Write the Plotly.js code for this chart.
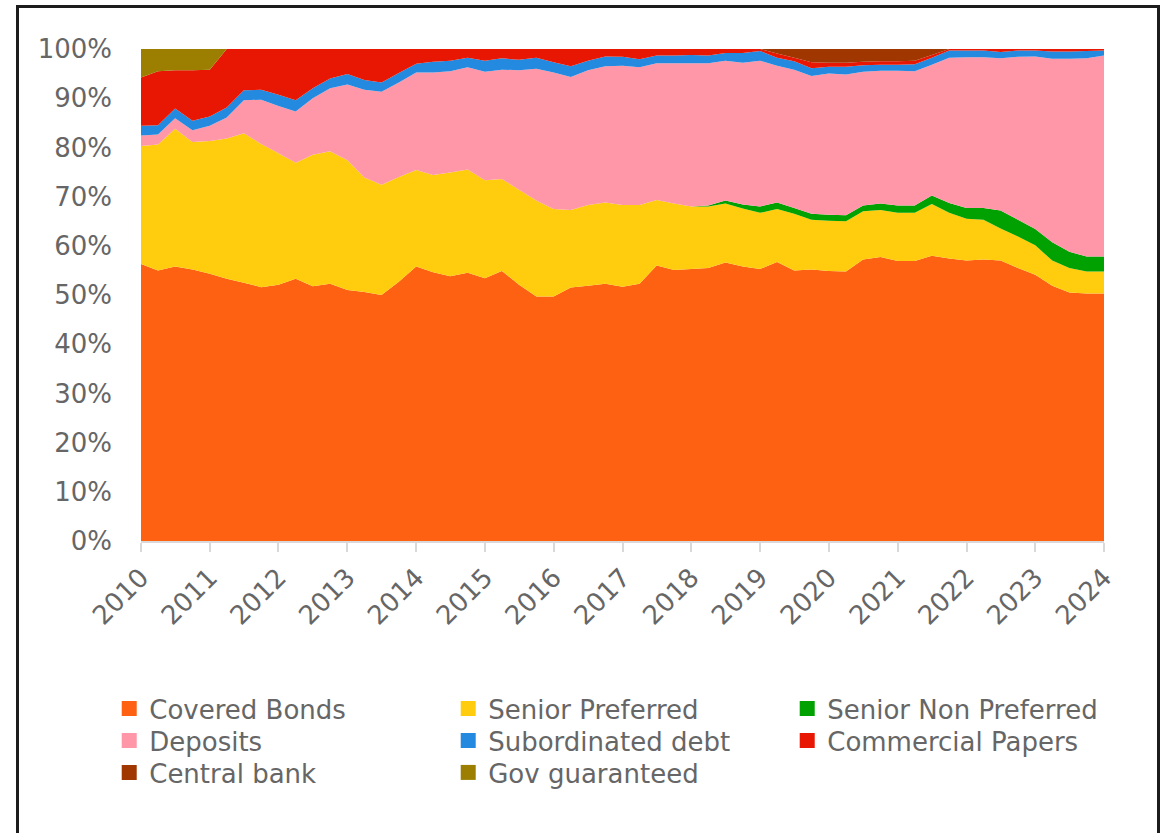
<!DOCTYPE html>
<html>
<head>
<meta charset="utf-8">
<script src="https://cdn.plot.ly/plotly-3.0.1.min.js"></script>
<style>
  html, body { margin: 0; padding: 0; background: #fff; overflow: hidden; }
  #chart { width: 1167px; height: 833px; }
  #frame { position: absolute; left: 16px; top: 5px; width: 1138px; height: 900px;
           border: 3px solid #1c1c1c; pointer-events: none; box-sizing: content-box; }
</style>
</head>
<body>
<div id="chart"></div>
<div id="frame"></div>
<script>
// Quarterly observation dates
const quarters = [
  '2010-01-01','2010-04-01','2010-07-01','2010-10-01',
  '2011-01-01','2011-04-01','2011-07-01','2011-10-01',
  '2012-01-01','2012-04-01','2012-07-01','2012-10-01',
  '2013-01-01','2013-04-01','2013-07-01','2013-10-01',
  '2014-01-01','2014-04-01','2014-07-01','2014-10-01',
  '2015-01-01','2015-04-01','2015-07-01','2015-10-01',
  '2016-01-01','2016-04-01','2016-07-01','2016-10-01',
  '2017-01-01','2017-04-01','2017-07-01','2017-10-01',
  '2018-01-01','2018-04-01','2018-07-01','2018-10-01',
  '2019-01-01','2019-04-01','2019-07-01','2019-10-01',
  '2020-01-01','2020-04-01','2020-07-01','2020-10-01',
  '2021-01-01','2021-04-01','2021-07-01','2021-10-01',
  '2022-01-01','2022-04-01','2022-07-01','2022-10-01',
  '2023-01-01','2023-04-01','2023-07-01','2023-10-01',
  '2024-01-01'
];

// Shares of funding (%)
const coveredBonds = [
  56.3,55.0,55.8,55.2, 54.3,53.3,52.5,51.6, 52.1,53.3,51.8,52.3,
  51.0,50.6,50.0,52.7, 55.8,54.6,53.8,54.5, 53.4,54.9,52.1,49.7,
  49.7,51.5,51.9,52.3, 51.7,52.3,56.0,55.1, 55.3,55.5,56.6,55.8,
  55.3,56.7,55.0,55.2, 54.9,54.8,57.2,57.7, 56.9,56.9,58.0,57.4,
  57.0,57.2,57.0,55.5, 54.1,51.9,50.5,50.3, 50.3
];
const seniorPreferred = [
  24.0,25.6,28.0,25.9, 27.0,28.5,30.4,29.1, 26.7,23.6,26.7,26.9,
  26.4,23.3,22.4,21.3, 19.6,19.8,21.1,21.0, 19.9,18.7,19.3,19.5,
  17.8,15.8,16.4,16.5, 16.6,16.0,13.3,13.5, 12.7,12.5,12.0,11.8,
  11.4,10.8,11.5,10.1, 10.2,10.2,9.8,9.6, 9.8,9.8,10.5,9.3,
  8.5,8.1,6.5,6.4, 6.0,5.1,5.0,4.5, 4.5
];
const seniorNonPreferred = [
  0,0,0,0, 0,0,0,0, 0,0,0,0,
  0,0,0,0, 0,0,0,0, 0,0,0,0,
  0,0,0,0, 0,0,0,0, 0,0.2,0.6,0.8,
  1.3,1.3,1.2,1.2, 1.2,1.2,1.2,1.3, 1.5,1.5,1.7,2.0,
  2.2,2.4,3.7,3.4, 3.3,3.7,3.3,3.0, 3.0
];
const deposits = [
  2.1,2.0,2.1,2.4, 3.1,4.3,6.7,9.0, 9.6,10.4,11.5,12.8,
  15.4,17.8,18.9,19.2, 19.8,20.8,20.6,20.8, 22.1,22.2,24.3,26.8,
  27.7,27.0,27.4,27.7, 28.3,28.0,27.8,28.5, 29.1,28.9,28.4,28.8,
  29.6,27.8,28.1,28.0, 28.7,28.6,27.2,27.0, 27.4,27.3,26.6,29.5,
  30.6,30.6,30.9,33.1, 35.1,37.3,39.2,40.3, 40.9
];
const subordinatedDebt = [
  2.0,1.9,2.0,1.9, 1.9,2.0,2.0,2.0, 2.3,2.3,2.0,2.0,
  2.1,2.0,1.9,1.9, 1.8,2.2,2.1,1.9, 2.2,2.3,2.1,2.2,
  2.1,2.2,1.9,2.0, 1.8,1.6,1.6,1.6, 1.7,1.6,1.6,2.0,
  2.0,1.6,1.7,1.6, 1.4,1.6,1.3,1.2, 1.2,1.4,1.4,1.5,
  1.4,1.4,1.3,1.3, 1.2,1.5,1.5,1.5, 1.0
];
const commercialPapers = [
  9.8,11.0,7.8,10.3, 9.5,11.9,8.4,8.3, 9.3,10.4,8.0,6.0,
  5.1,6.3,6.8,4.9, 3.0,2.6,2.4,1.8, 2.4,1.9,2.2,1.8,
  2.7,3.5,2.4,1.5, 1.6,2.1,1.3,1.3, 1.2,1.3,0.8,0.8,
  0.4,0.9,0.7,1.2, 0.8,0.8,0.7,0.7, 0.7,0.7,0.6,0.3,
  0.3,0.3,0.6,0.3, 0.3,0.5,0.5,0.4, 0.3
];
const centralBank = [
  0,0,0,0, 0,0,0,0, 0,0,0,0,
  0,0,0,0, 0,0,0,0, 0,0,0,0,
  0,0,0,0, 0,0,0,0, 0,0,0,0,
  0,0.9,1.8,2.7, 2.8,2.8,2.6,2.5, 2.5,2.4,1.2,0,
  0,0,0,0, 0,0,0,0, 0
];
const govGuaranteed = [
  5.8,4.5,4.3,4.3, 4.2,0,0,0, 0,0,0,0,
  0,0,0,0, 0,0,0,0, 0,0,0,0,
  0,0,0,0, 0,0,0,0, 0,0,0,0,
  0,0,0,0, 0,0,0,0, 0,0,0,0,
  0,0,0,0, 0,0,0,0, 0
];

const seriesNames = ['Covered Bonds','Senior Preferred','Senior Non Preferred','Deposits',
                     'Subordinated debt','Commercial Papers','Central bank','Gov guaranteed'];
const seriesValues = [coveredBonds, seniorPreferred, seniorNonPreferred, deposits,
                      subordinatedDebt, commercialPapers, centralBank, govGuaranteed];
const seriesColors = ['#FF6112','#FFCC0E','#00A100','#FF97A8','#248ADF','#E71704','#A03700','#9C7F00'];
const legendRows = ['legend','legend','legend','legend2','legend2','legend2','legend3','legend3'];

const FONT = '"DejaVu Sans", sans-serif';

const traces = [];
seriesNames.forEach((name, k) => {
  traces.push({
    type: 'scatter', x: quarters, y: seriesValues[k], name: name,
    stackgroup: 'one', mode: 'none', fillcolor: seriesColors[k],
    line: {width: 0}, showlegend: false, hoverinfo: 'x+y+name'
  });
});
// legend keys: square markers, no visible points
seriesNames.forEach((name, k) => {
  traces.push({
    type: 'scatter', mode: 'markers', x: [quarters[0]], y: [null], name: name,
    marker: {color: seriesColors[k], symbol: 'square', size: 15, line: {width: 0}},
    showlegend: true, legend: legendRows[k], hoverinfo: 'skip'
  });
});

function legendRow(yPaper) {
  return {
    orientation: 'h', x: -0.033, xanchor: 'left', y: yPaper, yanchor: 'top',
    entrywidth: 294, entrywidthmode: 'pixels', itemwidth: 30,
    font: {family: FONT, size: 26, color: '#666666'},
    traceorder: 'normal', bgcolor: 'rgba(0,0,0,0)'
  };
}

const layout = {
  width: 1167, height: 833,
  margin: {l: 141, r: 63, t: 49, b: 292, pad: 0},
  paper_bgcolor: '#ffffff', plot_bgcolor: '#ffffff',
  font: {family: FONT, color: '#666666', size: 26},
  xaxis: {
    type: 'date', range: ['2010-01-01', '2024-01-01'],
    tick0: '2010-01-01', dtick: 'M12', tickformat: '%Y',
    tickangle: -45, tickfont: {family: FONT, size: 26, color: '#666666'},
    showgrid: false, zeroline: false,
    showline: true, linecolor: '#d9d9d9', linewidth: 2,
    ticks: 'outside', ticklen: 9, tickwidth: 2, tickcolor: '#d9d9d9'
  },
  yaxis: {
    range: [0, 100], dtick: 10, ticksuffix: '%',
    tickfont: {family: FONT, size: 26, color: '#666666'},
    showgrid: false, zeroline: false, showline: false, ticks: '',
    ticklabelstandoff: 28
  },
  showlegend: true,
  legend: legendRow(-0.2927),
  legend2: legendRow(-0.3577),
  legend3: legendRow(-0.4228)
};

Plotly.newPlot('chart', traces, layout, {displayModeBar: false, staticPlot: true});
</script>
</body>
</html>
